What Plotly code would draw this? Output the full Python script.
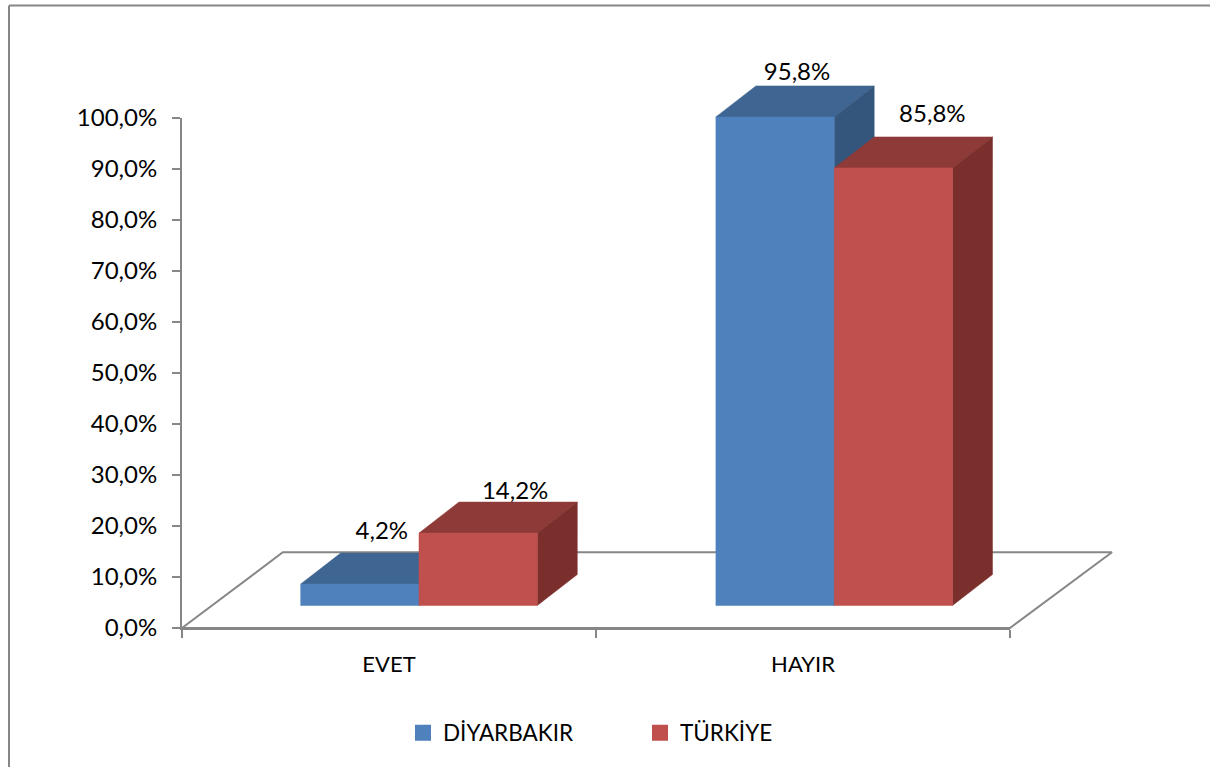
import plotly.graph_objects as go

categories = ["EVET", "HAYIR"]
diyarbakir = [4.2, 95.8]
turkiye = [14.2, 85.8]
series_names = ["DİYARBAKIR", "TÜRKİYE"]
y_ticks = [0, 10, 20, 30, 40, 50, 60, 70, 80, 90, 100]
y_tick_labels = ["0,0%", "10,0%", "20,0%", "30,0%", "40,0%", "50,0%", "60,0%", "70,0%", "80,0%", "90,0%", "100,0%"]

W, H = 1210, 767
X0, X1, Y0, Y100 = 182, 1010, 628, 118
PX_CAT = (X1 - X0) / 2
PX_PCT = (Y0 - Y100) / 100
DX = 40 / PX_CAT
DY = 31 / PX_PCT
FLOOR = 22.5 / PX_PCT
BAR_W = 118.3 / PX_CAT
BAR_START = 0.2867
CAT_STEP = 415.2 / PX_CAT
GRAY = "#868686"
FONT = "Lato"
FS = 24

COL = [("#4F81BD", "#3F6592", "#34567C"), ("#C0504D", "#8E3A38", "#7A2F2D")]
LABEL_SHIFT = [[(2, 20), (17, 9)], [(2, 12), (19, 21)]]  # px offset of value labels

fig = go.Figure()


def poly(xs, ys, color):
    fig.add_trace(go.Scatter(x=xs, y=ys, xaxis="x2", yaxis="y2", mode="lines", fill="toself",
                             fillcolor=color, line=dict(color=color, width=0.5),
                             showlegend=False, hoverinfo="skip"))


# floor outline
poly_x = [0, DX * 2.52, 2 + DX * 2.55, 2, 0]
poly_y = [0, (Y0 - 552.3) / PX_PCT, (Y0 - 552.3) / PX_PCT, 0, 0]
fig.add_trace(go.Scatter(x=poly_x, y=poly_y, xaxis="x2", yaxis="y2", mode="lines",
                         line=dict(color=GRAY, width=2), showlegend=False, hoverinfo="skip"))

for c in range(len(categories)):
    for s, values in enumerate([diyarbakir, turkiye]):
        v = values[c]
        l = c * CAT_STEP + BAR_START + s * BAR_W
        r = l + BAR_W
        b = FLOOR
        t = FLOOR + v
        front, top, side = COL[s]
        poly([l, l + DX, r + DX, r, l], [t, t + DY, t + DY, t, t], top)
        poly([r, r + DX, r + DX, r, r], [t, t + DY, b + DY, b, t], side)
        poly([l, r, r, l, l], [b, b, t, t, b], front)

for c in range(len(categories)):
    for s, values in enumerate([diyarbakir, turkiye]):
        v = values[c]
        sx, sy = LABEL_SHIFT[c][s]
        cx = c * CAT_STEP + BAR_START + s * BAR_W + BAR_W / 2 + DX / 2 + sx / PX_CAT
        cy = FLOOR + v + DY + sy / PX_PCT
        fig.add_trace(go.Scatter(x=[cx], y=[cy], xaxis="x2", yaxis="y2", mode="text",
                                 text=[f"{v:.1f}%".replace(".", ",")], textposition="middle center",
                                 textfont=dict(family=FONT, size=FS, color="#000000"),
                                 showlegend=False, hoverinfo="skip"))

for name, cols in zip(series_names, COL):
    fig.add_trace(go.Scatter(x=[None], y=[None], xaxis="x", yaxis="y", mode="markers", name=name,
                             marker=dict(symbol="square", size=16, color=cols[0])))

fig.update_layout(
    width=W, height=H, margin=dict(l=0, r=0, t=0, b=0, autoexpand=False),
    paper_bgcolor="white", plot_bgcolor="rgba(0,0,0,0)",
    font=dict(family=FONT, size=FS, color="#000000"),
    xaxis=dict(domain=[X0 / W, X1 / W], range=[0, 2], anchor="y", showgrid=False, zeroline=False,
               showline=True, linecolor=GRAY, linewidth=2,
               tickmode="array", tickvals=[0.5, 1.5], ticktext=categories, ticks="",
               ticklabelstandoff=16,
               minor=dict(tickmode="array", tickvals=[0, 1, 2], ticks="outside", ticklen=8,
                          tickwidth=2, tickcolor=GRAY, showgrid=False),
               tickfont=dict(family=FONT, size=22)),
    yaxis=dict(domain=[(H - Y0) / H, (H - Y100) / H], range=[0, 100], anchor="x", showgrid=False,
               zeroline=False, showline=True, linecolor=GRAY, linewidth=2,
               tickmode="array", tickvals=y_ticks, ticktext=y_tick_labels, ticks="outside",
               ticklen=8, tickwidth=2, tickcolor=GRAY, ticklabelstandoff=10,
               tickfont=dict(family=FONT, size=FS)),
    xaxis2=dict(domain=[0, 1], range=[-X0 / PX_CAT, (W - X0) / PX_CAT], visible=False, anchor="y2"),
    yaxis2=dict(domain=[0, 1], range=[(Y0 - H) / PX_PCT, Y0 / PX_PCT], visible=False, anchor="x2"),
    showlegend=True,
    legend=dict(orientation="h", x=403 / W, xanchor="left", y=(H - 733) / H, yanchor="middle",
                entrywidth=192, entrywidthmode="pixels", font=dict(family=FONT, size=22.5),
                bgcolor="rgba(0,0,0,0)", tracegroupgap=0, itemclick=False, itemdoubleclick=False),
    shapes=[
        dict(type="line", xref="paper", yref="paper", x0=9 / W, x1=9 / W, y0=0, y1=(H - 5.5) / H,
             line=dict(color=GRAY, width=2)),
        dict(type="line", xref="paper", yref="paper", x0=9 / W, x1=1, y0=(H - 5.5) / H, y1=(H - 5.5) / H,
             line=dict(color=GRAY, width=2)),
    ],
)

fig.write_html("out.html", config=dict(displayModeBar=False),
               post_script="document.body.style.margin='0';document.documentElement.style.overflow='hidden';")
